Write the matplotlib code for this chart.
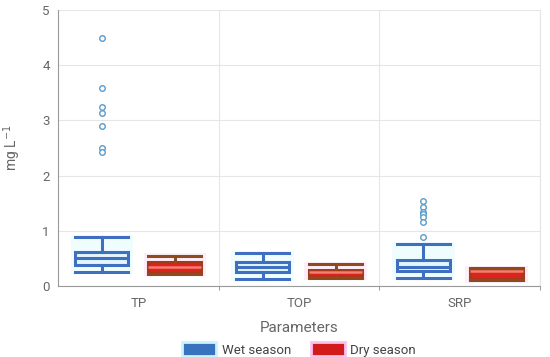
import matplotlib.pyplot as plt
from matplotlib.patches import Patch, Rectangle

plt.rcParams['font.family'] = ['Roboto', 'DejaVu Sans']

# Data (mg L-1)
params = ['TP', 'TOP', 'SRP']
# whislo, q1, median, q3, whishi
wet_stats = [
    [0.25, 0.38, 0.51, 0.62, 0.89],
    [0.13, 0.26, 0.35, 0.43, 0.60],
    [0.15, 0.27, 0.35, 0.47, 0.76],
]
dry_stats = [
    [0.22, 0.23, 0.34, 0.44, 0.55],
    [0.15, 0.18, 0.25, 0.29, 0.40],
    [0.10, 0.12, 0.27, 0.30, 0.33],
]
wet_outliers = [
    [4.50, 3.58, 3.25, 3.13, 2.90, 2.50, 2.42],
    [],
    [1.54, 1.43, 1.34, 1.30, 1.25, 1.16, 0.89],
]
dry_outliers = [[], [], []]


def to_bxp(stats, fliers):
    out = []
    for s, f in zip(stats, fliers):
        out.append(dict(whislo=s[0], q1=s[1], med=s[2], q3=s[3], whishi=s[4], fliers=f))
    return out


fig, ax = plt.subplots(figsize=(5.5, 3.57), dpi=100)
fig.subplots_adjust(left=0.1055, right=0.982, bottom=0.199, top=0.972)

x = list(range(len(params)))
off = 0.227
w = 0.33
wet_pos = [i - off for i in x]
dry_pos = [i + off for i in x]

# soft halo behind each box
for pos, stats, col in [(wet_pos, wet_stats, '#effdfe'), (dry_pos, dry_stats, '#fdeefa')]:
    for p, s in zip(pos, stats):
        ax.add_patch(Rectangle((p - w / 2 - 0.03, s[0] - 0.04), w + 0.06, s[4] - s[0] + 0.08,
                               facecolor=col, edgecolor='none', zorder=1))

ax.bxp(to_bxp(wet_stats, wet_outliers), positions=wet_pos, widths=w, patch_artist=True,
       boxprops=dict(facecolor='#e3f6fb', edgecolor='#3f6fc0', linewidth=2.2),
       whiskerprops=dict(color='#3f6fc0', linewidth=2.2),
       capprops=dict(color='#3f6fc0', linewidth=2.2),
       medianprops=dict(color='#3f6fc0', linewidth=2.2),
       flierprops=dict(marker='o', markersize=4, markerfacecolor='white',
                       markeredgecolor='#5b9cc8', markeredgewidth=1.0),
       capwidths=w, zorder=3)

ax.bxp(to_bxp(dry_stats, dry_outliers), positions=dry_pos, widths=w, patch_artist=True,
       boxprops=dict(facecolor='#e0221c', edgecolor='#a5391b', linewidth=2.2),
       whiskerprops=dict(color='#8f4a1e', linewidth=2.2),
       capprops=dict(color='#8f4a1e', linewidth=2.2),
       medianprops=dict(color='#f08070', linewidth=1.8),
       flierprops=dict(marker='o', markersize=4, markerfacecolor='white',
                       markeredgecolor='#c03030'),
       capwidths=w, zorder=3)

ax.set_xlim(-0.5, 2.5)
ax.set_ylim(0, 5)
ax.set_yticks(range(0, 6))
ax.set_xticks(x)
ax.set_xticklabels(params)
ax.set_xticks([0.5, 1.5, 2.5], minor=True)
ax.tick_params(axis='x', which='major', length=0, pad=8, labelsize=9.5, colors='#666666')
ax.tick_params(axis='x', which='minor', length=3, color='#888888')
ax.tick_params(axis='y', length=0, pad=6, labelsize=9.5, colors='#666666')

ax.grid(axis='y', color='#e6e6e6', linewidth=0.8, zorder=0)
ax.grid(axis='x', which='minor', color='#e6e6e6', linewidth=0.8, zorder=0)
ax.set_axisbelow(True)

ax.spines['top'].set_visible(False)
ax.spines['right'].set_color('#e6e6e6')
ax.spines['right'].set_linewidth(0.8)
ax.spines['left'].set_color('#999999')
ax.spines['bottom'].set_color('#999999')

ax.set_ylabel('mg L$^{-1}$', color='#666666', fontsize=10, labelpad=14)
ax.set_xlabel('Parameters', color='#666666', fontsize=11, labelpad=8)

handles = [Patch(facecolor='#3a73bd', edgecolor='#c8f6fb', linewidth=2, label='Wet season'),
           Patch(facecolor='#d21c1c', edgecolor='#f9c3ee', linewidth=2, label='Dry season')]
leg = ax.legend(handles=handles, loc='upper center', bbox_to_anchor=(0.5, -0.16), ncol=2,
                frameon=False, fontsize=9.5, handlelength=2.6, handleheight=1.3,
                columnspacing=1.5, handletextpad=0.4)
for t in leg.get_texts():
    t.set_color('#444444')

fig.savefig('out.png', dpi=100)
